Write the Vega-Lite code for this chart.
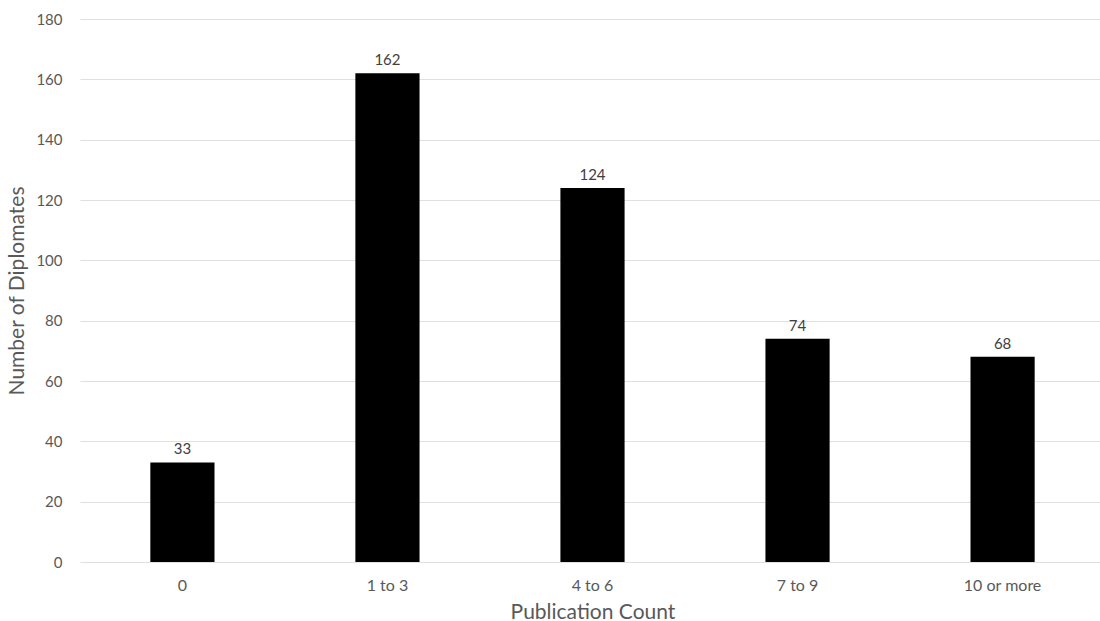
{
  "$schema": "https://vega.github.io/schema/vega-lite/v6.json",
  "autosize": "none",
  "padding": {"left": 80, "top": 19, "right": 0, "bottom": 59},
  "width": 1025,
  "height": 543,
  "background": "white",
  "config": {
    "font": "Lato",
    "view": {"stroke": null}
  },
  "data": {
    "values": [
      {"count": "0", "diplomates": 33},
      {"count": "1 to 3", "diplomates": 162},
      {"count": "4 to 6", "diplomates": 124},
      {"count": "7 to 9", "diplomates": 74},
      {"count": "10 or more", "diplomates": 68}
    ]
  },
  "encoding": {
    "x": {
      "field": "count",
      "type": "nominal",
      "sort": null,
      "scale": {"paddingInner": 0.687, "paddingOuter": 0.343},
      "axis": {
        "title": "Publication Count",
        "titleFont": "Lato",
        "titleFontSize": 21,
        "titleFontWeight": "normal",
        "titleColor": "#595959",
        "titlePadding": 8,
        "labelAngle": 0,
        "labelFontSize": 16,
        "labelColor": "#595959",
        "labelPadding": 15,
        "domain": false,
        "ticks": false
      }
    },
    "y": {
      "field": "diplomates",
      "type": "quantitative",
      "scale": {"domain": [0, 180], "nice": false},
      "axis": {
        "title": "Number of Diplomates",
        "titleFont": "Lato",
        "titleFontSize": 21,
        "titleFontWeight": "normal",
        "titleColor": "#595959",
        "titlePadding": 8,
        "values": [0, 20, 40, 60, 80, 100, 120, 140, 160, 180],
        "labelFontSize": 15,
        "labelColor": "#595959",
        "labelPadding": 18,
        "domain": false,
        "ticks": false,
        "gridColor": "#e0e0e0",
        "gridWidth": 1.2
      }
    }
  },
  "layer": [
    {
      "mark": {"type": "bar", "color": "#000000"}
    },
    {
      "mark": {"type": "text", "baseline": "bottom", "dy": -5, "fontSize": 15, "color": "#404040"},
      "encoding": {"text": {"field": "diplomates", "type": "quantitative"}}
    }
  ]
}
